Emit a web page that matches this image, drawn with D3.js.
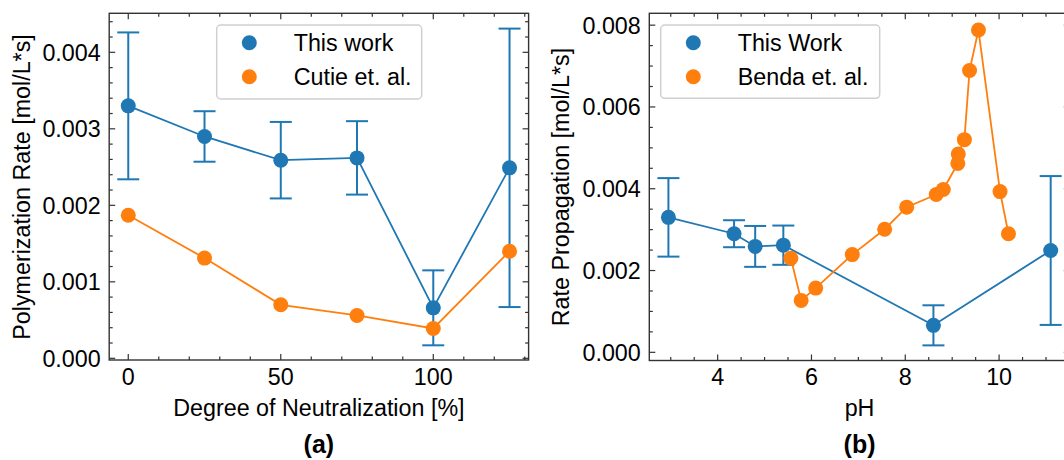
<!DOCTYPE html>
<html><head><meta charset="utf-8">
<script src="https://cdn.jsdelivr.net/npm/d3@7"></script>
<style>
body{margin:0;background:#fff}
svg{display:block}
text{font-family:"Liberation Sans",Arial,Helvetica,sans-serif;fill:#000}
</style>
</head><body>
<svg id="chart" width="1064" height="460"></svg>
<script>
// ---------- data ----------
const neutralization = [0, 25, 50, 75, 100, 125];
const thisWorkRate = [0.0033, 0.0029, 0.00259, 0.00262, 0.00066, 0.00249];
const thisWorkErr = [0.00096, 0.00033, 0.0005, 0.00048, 0.00049, 0.00182];
const cutieRate = [0.00187, 0.00131, 0.0007, 0.00056, 0.00039, 0.0014];

const thisWorkPH = [2.95, 4.35, 4.8, 5.4, 8.6, 11.1];
const bendaPH = [5.56, 5.78, 6.09, 6.87, 7.56, 8.03, 8.66, 8.81, 9.12, 9.13, 9.26, 9.37, 9.56, 10.02, 10.2];
const bendaRate = [0.0023, 0.00127, 0.00157, 0.00239, 0.00301, 0.00355, 0.00386, 0.00398, 0.00462, 0.00485, 0.0052, 0.00689, 0.00788, 0.00393, 0.0029];

const leftXTicks = [0, 50, 100];
const leftYTicks = [0, 0.001, 0.002, 0.003, 0.004];
const rightXTicks = [4, 6, 8, 10];
const rightYTicks = [0, 0.002, 0.004, 0.006, 0.008];

const legendLeft = ["This work", "Cutie et. al."];
const legendRight = ["This Work", "Benda et. al."];

// ---------- styling ----------
const BLUE = "#1f77b4", ORANGE = "#ff7f0e", SPINE = "#333333";
const FS = 23.3;
const svg = d3.select("#chart");

function panel(cfg) {
  const g = svg.append("g");
  const x = d3.scaleLinear().domain(cfg.xDomain).range(cfg.xRange);
  const y = d3.scaleLinear().domain(cfg.yDomain).range(cfg.yRange);
  const [x0, x1] = cfg.xRange, [y0, y1] = cfg.yRange; // y0 bottom, y1 top

  // ticks (inward, all four sides)
  const majL = 6, minL = 3.5;
  const xMinor = d3.range(Math.ceil(cfg.xDomain[0] / cfg.xMinorStep) * cfg.xMinorStep, cfg.xDomain[1] + 1e-9, cfg.xMinorStep);
  const yMinor = d3.range(Math.ceil(cfg.yDomain[0] / cfg.yMinorStep - 1e-9) * cfg.yMinorStep, cfg.yDomain[1] + 1e-12, cfg.yMinorStep);
  const tg = g.append("g").attr("stroke", SPINE).attr("stroke-width", 1.2);
  const isMajor = (v, arr) => arr.some(t => Math.abs(t - v) < 1e-9);
  xMinor.forEach(v => {
    const L = isMajor(v, cfg.xTicks) ? majL : minL;
    tg.append("line").attr("x1", x(v)).attr("x2", x(v)).attr("y1", y0).attr("y2", y0 - L);
    tg.append("line").attr("x1", x(v)).attr("x2", x(v)).attr("y1", y1).attr("y2", y1 + L);
  });
  yMinor.forEach(v => {
    const L = isMajor(v, cfg.yTicks) ? majL : minL;
    tg.append("line").attr("y1", y(v)).attr("y2", y(v)).attr("x1", x0).attr("x2", x0 + L);
    tg.append("line").attr("y1", y(v)).attr("y2", y(v)).attr("x1", x1).attr("x2", x1 - L);
  });

  // tick labels
  g.append("g").selectAll("text").data(cfg.xTicks).join("text")
    .attr("x", d => x(d)).attr("y", 385).attr("text-anchor", "middle")
    .attr("font-size", FS).text(d => d3.format("d")(d));
  g.append("g").selectAll("text").data(cfg.yTicks).join("text")
    .attr("x", x0 - 8.5).attr("y", d => y(d)).attr("dy", "0.36em").attr("text-anchor", "end")
    .attr("font-size", FS).text(d => d3.format(".3f")(d));

  const dg = g.append("g");

  // error bars (blue)
  const eg = dg.append("g").attr("stroke", BLUE).attr("stroke-width", 2);
  cfg.blueX.forEach((xv, i) => {
    const lo = thisWorkRate[i] - thisWorkErr[i], hi = thisWorkRate[i] + thisWorkErr[i];
    eg.append("line").attr("x1", x(xv)).attr("x2", x(xv)).attr("y1", y(lo)).attr("y2", y(hi));
    eg.append("line").attr("x1", x(xv) - 11).attr("x2", x(xv) + 11).attr("y1", y(lo)).attr("y2", y(lo));
    eg.append("line").attr("x1", x(xv) - 11).attr("x2", x(xv) + 11).attr("y1", y(hi)).attr("y2", y(hi));
  });
  const line = d3.line().x(d => x(d[0])).y(d => y(d[1]));
  const blue = cfg.blueX.map((v, i) => [v, thisWorkRate[i]]);
  const orange = cfg.orangeX.map((v, i) => [v, cfg.orangeY[i]]);
  dg.append("path").datum(blue).attr("d", line).attr("fill", "none").attr("stroke", BLUE).attr("stroke-width", 1.8);
  dg.append("g").selectAll("circle").data(blue).join("circle")
    .attr("cx", d => x(d[0])).attr("cy", d => y(d[1])).attr("r", 7.5).attr("fill", BLUE);
  dg.append("path").datum(orange).attr("d", line).attr("fill", "none").attr("stroke", ORANGE).attr("stroke-width", 1.8);
  dg.append("g").selectAll("circle").data(orange).join("circle")
    .attr("cx", d => x(d[0])).attr("cy", d => y(d[1])).attr("r", 7.5).attr("fill", ORANGE);

  // spines
  g.append("rect").attr("x", x0).attr("y", y1).attr("width", x1 - x0).attr("height", y0 - y1)
    .attr("fill", "none").attr("stroke", SPINE).attr("stroke-width", 1.4);

  // legend
  const lg = g.append("g");
  lg.append("rect").attr("x", cfg.legend.x).attr("y", cfg.legend.y).attr("width", cfg.legend.w).attr("height", cfg.legend.h)
    .attr("rx", 4).attr("fill", "#fff").attr("stroke", "#d0d0d0").attr("stroke-width", 1.5);
  cfg.legend.labels.forEach((lab, i) => {
    const cy = cfg.legend.y + 17.7 + i * 34;
    lg.append("circle").attr("cx", cfg.legend.x + 32.6).attr("cy", cy).attr("r", 7.5).attr("fill", i ? ORANGE : BLUE);
    lg.append("text").attr("x", cfg.legend.x + 77).attr("y", cy).attr("dy", "0.36em").attr("font-size", FS).text(lab);
  });

  // axis titles
  const cx = (x0 + x1) / 2;
  g.append("text").attr("x", cx).attr("y", 416).attr("text-anchor", "middle").attr("font-size", FS).text(cfg.xTitle);
  g.append("text").attr("transform", `translate(${cfg.yTitleX},187) rotate(-90)`).attr("text-anchor", "middle")
    .attr("font-size", FS).text(cfg.yTitle);
  g.append("text").attr("x", cx).attr("y", 453).attr("text-anchor", "middle").attr("font-size", 25)
    .attr("font-weight", "bold").text(cfg.tag);
}

panel({
  xDomain: [-6.25, 131.25], xRange: [109.2, 528.6], yDomain: [-0.000022, 0.00451], yRange: [360, 13.3],
  xTicks: leftXTicks, yTicks: leftYTicks, xMinorStep: 10, yMinorStep: 0.0002,
  blueX: neutralization, orangeX: neutralization, orangeY: cutieRate,
  legend: { x: 216.7, y: 25, w: 205, h: 74, labels: legendLeft },
  xTitle: "Degree of Neutralization [%]", yTitle: "Polymerization Rate [mol/L*s]", yTitleX: 30, tag: "(a)"
});
panel({
  xDomain: [2.5425, 11.5075], xRange: [649.3, 1069.8], yDomain: [-0.0002, 0.00829], yRange: [360.5, 13.3],
  xTicks: rightXTicks, yTicks: rightYTicks, xMinorStep: 0.5, yMinorStep: 0.0005,
  blueX: thisWorkPH, orangeX: bendaPH, orangeY: bendaRate,
  legend: { x: 660.7, y: 25, w: 219, h: 73.3, labels: legendRight },
  xTitle: "pH", yTitle: "Rate Propagation [mol/L*s]", yTitleX: 569, tag: "(b)"
});
</script>
</body></html>
